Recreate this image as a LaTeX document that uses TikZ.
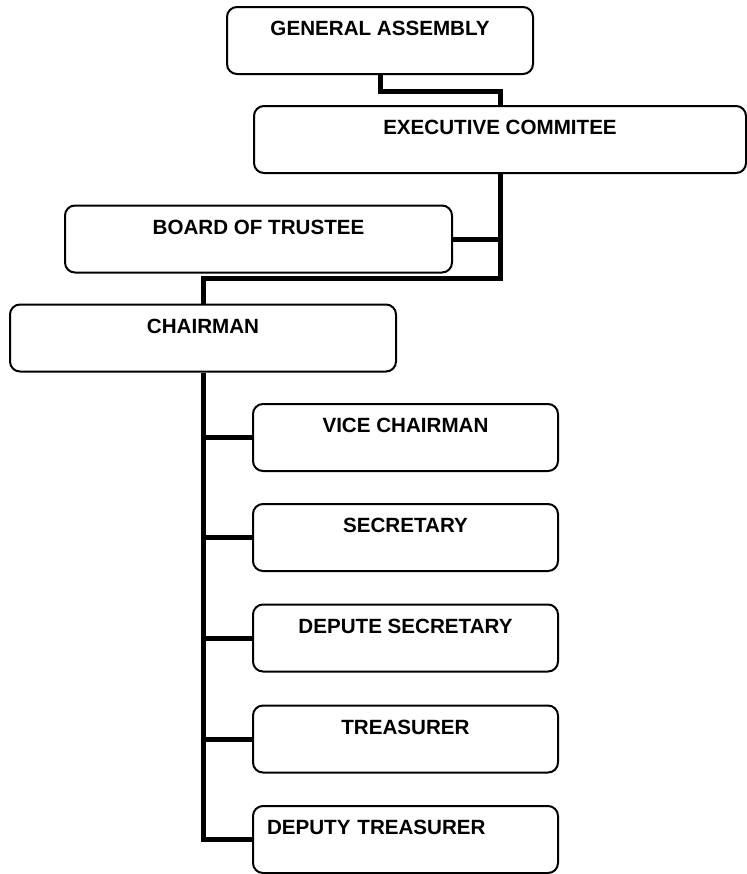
\documentclass[tikz,border=0pt]{standalone}
\usepackage{fontspec}
\setmainfont{Liberation Sans}

\begin{document}
\begin{tikzpicture}[x=0.5pt,y=-0.5pt,
        post/.style={draw,line width=1pt,rounded corners=5pt,inner xsep=2pt,inner ysep=0pt,
            minimum height=33.5pt,text height=14.25pt,text depth=19.25pt,
            font=\fontsize{10.3}{12}\selectfont\bfseries},
        link/.style={line width=2.5pt}]
    \useasboundingbox (0,0) rectangle (747,874);

    \node[post,minimum width=153pt] (assembly) at (380,40.5) {GENERAL ASSEMBLY};
    \node[post,minimum width=246pt] (executive) at (500,139.5) {EXECUTIVE COMMITEE};
    \node[post,minimum width=193.5pt] (trustee) at (258.5,239) {BOARD OF TRUSTEE};
    \node[post,minimum width=193pt] (chairman) at (203,338) {CHAIRMAN};

    \node[post,minimum width=152.5pt] (vice) at (405.5,437.5) {VICE CHAIRMAN};
    \node[post,minimum width=152.5pt] (secretary) at (405.5,537.5) {SECRETARY};
    \node[post,minimum width=152.5pt] (depsec) at (405.5,638) {DEPUTE SECRETARY};
    \node[post,minimum width=152.5pt] (treasurer) at (405.5,739) {TREASURER};
    \node[post,inner xsep=7pt,text width=138.5pt,align=left] (deptreas) at (405.5,839.5) {DEPUTY TREASURER};

    % top of the tree
    \draw[link] (assembly.south) -- ++(0,16) -| (executive.north);
    \coordinate (split) at (500,278);
    \draw[link] (executive.south) -- (split) -| (chairman.north);
    \draw[link] (trustee.east) -- (trustee.east -| split);

    % officers under the chairman
    \draw[link] (chairman.south) -- (chairman.south |- deptreas.west) -- (deptreas.west);
    \foreach \n in {vice,secretary,depsec,treasurer}
        \draw[link] (chairman.south |- \n.west) -- (\n.west);
\end{tikzpicture}
\end{document}
